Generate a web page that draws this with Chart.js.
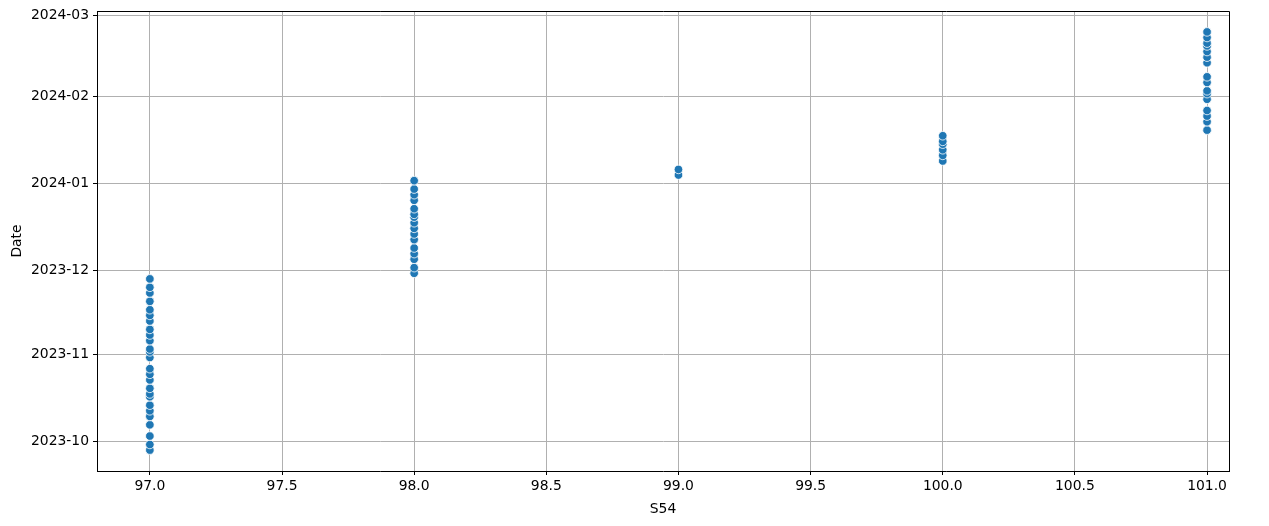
<!DOCTYPE html>
<html lang="en">

<head>
  <meta charset="UTF-8">
  <title>S54 vs Date</title>
  <script src="https://cdn.jsdelivr.net/npm/chart.js"></script>
  <style>
    body { margin: 0; background: #fff; }
  </style>
</head>

<body>
  <canvas id="scatterChart" width="1269" height="526"></canvas>
  <script>
    // S54 levels and the dates observed at each level
    var s54Levels = [97, 98, 99, 100, 101];

    var dates97 = ['2023-09-28', '2023-09-30', '2023-10-03', '2023-10-07', '2023-10-10', '2023-10-12',
      '2023-10-14', '2023-10-17', '2023-10-18', '2023-10-20', '2023-10-23', '2023-10-25', '2023-10-27',
      '2023-10-31', '2023-11-02', '2023-11-03', '2023-11-06', '2023-11-08', '2023-11-10', '2023-11-13',
      '2023-11-15', '2023-11-17', '2023-11-20', '2023-11-23', '2023-11-25', '2023-11-28'];
    var dates98 = ['2023-11-30', '2023-12-02', '2023-12-05', '2023-12-07', '2023-12-09', '2023-12-12',
      '2023-12-14', '2023-12-16', '2023-12-18', '2023-12-20', '2023-12-21', '2023-12-23', '2023-12-26',
      '2023-12-28', '2023-12-30', '2024-01-02'];
    var dates99 = ['2024-01-04', '2024-01-06'];
    var dates100 = ['2024-01-09', '2024-01-11', '2024-01-13', '2024-01-15', '2024-01-16', '2024-01-18'];
    var dates101 = ['2024-01-20', '2024-01-23', '2024-01-25', '2024-01-27', '2024-01-31', '2024-02-02',
      '2024-02-03', '2024-02-06', '2024-02-08', '2024-02-13', '2024-02-15', '2024-02-17', '2024-02-19',
      '2024-02-20', '2024-02-22', '2024-02-24'];

    var xTickLabels = ['97.0', '97.5', '98.0', '98.5', '99.0', '99.5', '100.0', '100.5', '101.0'];
    var yTickLabels = ['2023-10', '2023-11', '2023-12', '2024-01', '2024-02', '2024-03'];

    var datesByLevel = [dates97, dates98, dates99, dates100, dates101];

    var points = [];
    s54Levels.forEach(function (level, i) {
      datesByLevel[i].forEach(function (d) {
        points.push({ x: level, y: Date.parse(d) });
      });
    });

    // matplotlib-style 5% margin on the date axis
    var times = points.map(function (p) { return p.y; });
    var tMin = Math.min.apply(null, times);
    var tMax = Math.max.apply(null, times);
    var tPad = (tMax - tMin) * 0.05;

    var tickFont = { family: 'DejaVu Sans', size: 13.9 };

    // top and right spines (left and bottom come from the axis borders)
    var framePlugin = {
      id: 'frame',
      afterDraw: function (chart) {
        var a = chart.chartArea;
        var ctx = chart.ctx;
        var top = Math.round(a.top - 0.5) + 0.5;
        var right = Math.round(a.right - 0.5) + 0.5;
        ctx.save();
        ctx.strokeStyle = '#000';
        ctx.lineWidth = 1;
        ctx.beginPath();
        ctx.moveTo(Math.round(a.left), top);
        ctx.lineTo(right, top);
        ctx.lineTo(right, Math.round(a.bottom) + 1);
        ctx.stroke();
        ctx.restore();
      }
    };

    new Chart(document.getElementById('scatterChart'), {
      type: 'scatter',
      data: {
        datasets: [{
          data: points,
          backgroundColor: '#1f77b4',
          borderColor: '#ffffff',
          borderWidth: 0.8,
          pointRadius: 4.3,
          pointHoverRadius: 4.3
        }]
      },
      options: {
        responsive: false,
        animation: false,
        layout: { padding: { top: 11, right: 40, bottom: 0, left: 0 } },
        plugins: {
          legend: { display: false },
          tooltip: { enabled: false }
        },
        scales: {
          x: {
            type: 'linear',
            min: 96.8,
            max: 101.083,
            z: 1,
            afterBuildTicks: function (axis) {
              axis.ticks = xTickLabels.map(function (t) { return { value: parseFloat(t) }; });
            },
            afterFit: function (axis) { axis.height = 55; },
            ticks: {
              color: '#000',
              font: tickFont,
              padding: 3,
              maxRotation: 0,
              autoSkip: false,
              callback: function (value, index) { return xTickLabels[index]; }
            },
            grid: { color: '#b0b0b0', lineWidth: 1, tickColor: '#000', tickLength: 4 },
            border: { color: '#000', width: 1 },
            title: {
              display: true,
              text: 'S54',
              color: '#000',
              font: tickFont,
              padding: { top: 0, bottom: 8.7 }
            }
          },
          y: {
            type: 'linear',
            min: tMin - tPad,
            max: tMax + tPad,
            z: 1,
            afterBuildTicks: function (axis) {
              axis.ticks = yTickLabels.map(function (t) { return { value: Date.parse(t + '-01') }; });
            },
            afterFit: function (axis) { axis.width = 97; },
            ticks: {
              color: '#000',
              font: { family: 'DejaVu Sans', size: 13.9, lineHeight: 1.0 },
              padding: 4,
              autoSkip: false,
              callback: function (value, index) { return yTickLabels[index]; }
            },
            grid: { color: '#b0b0b0', lineWidth: 1, tickColor: '#000', tickLength: 4 },
            border: { color: '#000', width: 1 },
            title: {
              display: true,
              text: 'Date',
              color: '#000',
              font: tickFont,
              padding: { top: 8.7, bottom: 0 }
            }
          }
        }
      },
      plugins: [framePlugin]
    });
  </script>
</body>

</html>
